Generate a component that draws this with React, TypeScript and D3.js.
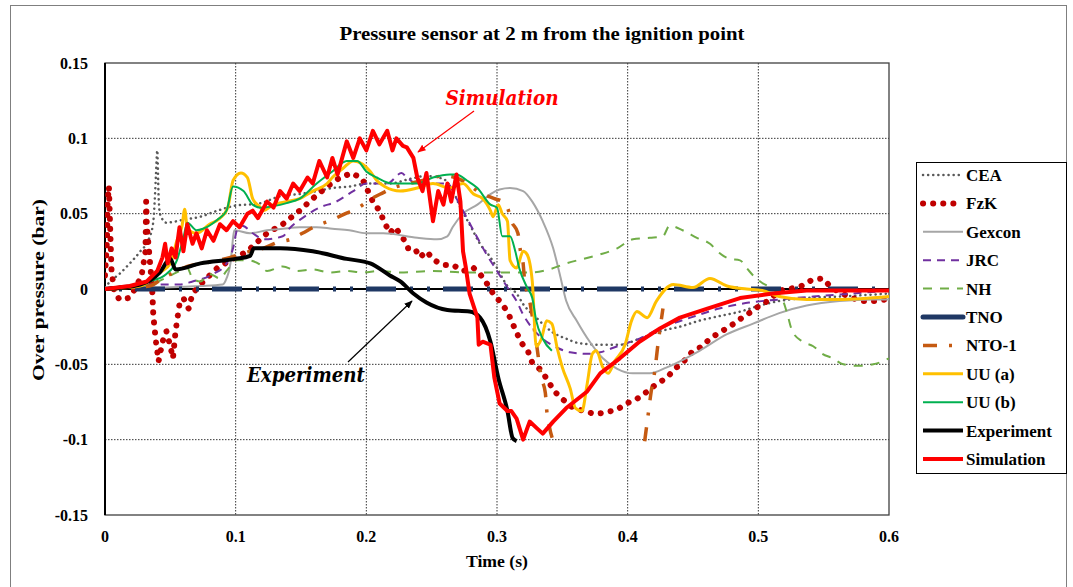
import React from "react";
import * as d3 from "d3";

type Pt = [number, number];

// time (s), over pressure (bar)
const cea: Pt[] = [
  [0, 0.001], [0.004, 0.005], [0.011, 0.01], [0.019, 0.017], [0.027, 0.025], [0.034, 0.034],
  [0.037, 0.045], [0.038, 0.058], [0.039, 0.076], [0.04, 0.092], [0.041, 0.062], [0.042, 0.05],
  [0.047, 0.044], [0.06, 0.046], [0.073, 0.048], [0.086, 0.052], [0.098, 0.055], [0.119, 0.057],
  [0.136, 0.062], [0.149, 0.063], [0.162, 0.065], [0.174, 0.067], [0.187, 0.068], [0.2, 0.07],
  [0.218, 0.07], [0.233, 0.073], [0.246, 0.075], [0.259, 0.073], [0.268, 0.062], [0.272, 0.054],
  [0.279, 0.043], [0.287, 0.03], [0.295, 0.021], [0.3, 0.014], [0.308, 0.002], [0.315, -0.003],
  [0.32, -0.01], [0.33, -0.019], [0.343, -0.029], [0.353, -0.033], [0.363, -0.036], [0.379, -0.037],
  [0.394, -0.037], [0.409, -0.033], [0.425, -0.028], [0.44, -0.025], [0.455, -0.021], [0.47, -0.018],
  [0.486, -0.015], [0.501, -0.011], [0.516, -0.008], [0.537, -0.006], [0.562, -0.005], [0.6, -0.003],
];

const fzk: Pt[] = [
  [0, 0.009], [0.0015, 0.032], [0.002, 0.058], [0.003, 0.068], [0.004, 0.039], [0.005, 0.012],
  [0.007, -0.001], [0.011, -0.007], [0.018, -0.006], [0.023, 0], [0.028, 0.009], [0.031, 0.025],
  [0.0315, 0.058], [0.032, 0.042], [0.034, 0.022], [0.036, 0.002], [0.037, -0.018], [0.039, -0.035],
  [0.041, -0.048], [0.044, -0.035], [0.047, -0.028], [0.05, -0.038], [0.052, -0.046], [0.054, -0.028],
  [0.057, -0.01], [0.06, -0.006], [0.064, -0.013], [0.067, -0.003], [0.073, 0.003], [0.086, 0.014],
  [0.096, 0.019], [0.109, 0.025], [0.115, 0.03], [0.124, 0.037], [0.136, 0.043], [0.149, 0.052],
  [0.159, 0.06], [0.17, 0.068], [0.18, 0.074], [0.189, 0.077], [0.197, 0.073], [0.205, 0.058],
  [0.21, 0.052], [0.214, 0.044], [0.218, 0.037], [0.222, 0.041], [0.228, 0.034], [0.232, 0.027],
  [0.237, 0.027], [0.241, 0.021], [0.246, 0.025], [0.252, 0.019], [0.259, 0.016], [0.266, 0.016],
  [0.274, 0.012], [0.282, 0.014], [0.287, 0.01], [0.292, 0.004], [0.297, -0.003], [0.302, -0.008],
  [0.308, -0.015], [0.311, -0.021], [0.315, -0.029], [0.319, -0.036], [0.324, -0.042], [0.327, -0.049],
  [0.334, -0.054], [0.339, -0.061], [0.344, -0.068], [0.35, -0.073], [0.357, -0.078], [0.366, -0.081],
  [0.375, -0.083], [0.383, -0.082], [0.392, -0.08], [0.399, -0.076], [0.407, -0.073], [0.415, -0.068],
  [0.422, -0.063], [0.43, -0.059], [0.436, -0.053], [0.442, -0.049], [0.449, -0.042], [0.457, -0.038],
  [0.463, -0.033], [0.47, -0.029], [0.478, -0.025], [0.486, -0.02], [0.493, -0.016], [0.501, -0.011],
  [0.509, -0.007], [0.516, -0.001], [0.524, 0], [0.533, 0.002], [0.541, 0.006], [0.549, 0.007],
  [0.556, 0.001], [0.564, -0.003], [0.572, -0.006], [0.58, -0.008], [0.589, -0.008], [0.598, -0.007],
];

const gexcon: Pt[] = [
  [0, 0.001], [0.047, 0.001], [0.073, 0.002], [0.09, 0.003], [0.093, 0.007], [0.096, 0.017],
  [0.097, 0.025], [0.098, 0.034], [0.099, 0.039], [0.111, 0.037], [0.124, 0.039], [0.136, 0.04],
  [0.149, 0.041], [0.162, 0.041], [0.174, 0.04], [0.187, 0.039], [0.2, 0.037], [0.213, 0.037],
  [0.239, 0.034], [0.254, 0.033], [0.262, 0.035], [0.266, 0.041], [0.274, 0.05], [0.285, 0.056],
  [0.295, 0.063], [0.302, 0.066], [0.31, 0.067], [0.32, 0.065], [0.327, 0.058], [0.335, 0.045],
  [0.343, 0.027], [0.348, 0.01], [0.353, -0.008], [0.361, -0.021], [0.371, -0.035], [0.381, -0.046],
  [0.392, -0.053], [0.404, -0.056], [0.417, -0.056], [0.43, -0.052], [0.455, -0.041], [0.476, -0.03],
  [0.496, -0.023], [0.516, -0.016], [0.537, -0.011], [0.562, -0.008], [0.588, -0.007], [0.6, -0.007],
];

const jrc: Pt[] = [
  [0, 0], [0.004, 0.001], [0.037, 0.003], [0.057, 0.003], [0.067, 0.005], [0.083, 0.01],
  [0.093, 0.017], [0.098, 0.027], [0.101, 0.039], [0.105, 0.042], [0.113, 0.037], [0.122, 0.033],
  [0.136, 0.035], [0.142, 0.041], [0.151, 0.047], [0.164, 0.054], [0.177, 0.058], [0.19, 0.065],
  [0.2, 0.07], [0.216, 0.07], [0.227, 0.077], [0.231, 0.074], [0.239, 0.07], [0.251, 0.07],
  [0.262, 0.07], [0.269, 0.06], [0.277, 0.047], [0.285, 0.034], [0.292, 0.023], [0.3, 0.012],
  [0.308, 0.001], [0.315, -0.008], [0.32, -0.017], [0.327, -0.026], [0.335, -0.033], [0.346, -0.039],
  [0.356, -0.042], [0.369, -0.043], [0.379, -0.042], [0.389, -0.039], [0.399, -0.036], [0.409, -0.033],
  [0.425, -0.026], [0.448, -0.019], [0.47, -0.013], [0.493, -0.009], [0.516, -0.007], [0.542, -0.005],
  [0.572, -0.003], [0.6, -0.001],
];

const nh: Pt[] = [
  [0, 0], [0.034, 0.003], [0.055, 0.011], [0.063, 0.014], [0.067, 0.007], [0.073, 0.005],
  [0.08, 0.01], [0.088, 0.007], [0.093, 0.012], [0.101, 0.019], [0.109, 0.019], [0.119, 0.016],
  [0.124, 0.012], [0.136, 0.015], [0.147, 0.012], [0.159, 0.013], [0.172, 0.011], [0.185, 0.012],
  [0.197, 0.011], [0.21, 0.012], [0.226, 0.011], [0.251, 0.012], [0.277, 0.011], [0.302, 0.011],
  [0.327, 0.011], [0.34, 0.013], [0.353, 0.017], [0.366, 0.02], [0.379, 0.023], [0.392, 0.027],
  [0.404, 0.033], [0.417, 0.034], [0.427, 0.035], [0.432, 0.042], [0.442, 0.039], [0.453, 0.034],
  [0.463, 0.03], [0.47, 0.024], [0.478, 0.02], [0.486, 0.019], [0.491, 0.014], [0.496, 0.009],
  [0.503, 0.004], [0.511, 0], [0.519, -0.008], [0.522, -0.016], [0.526, -0.028], [0.534, -0.035],
  [0.542, -0.038], [0.549, -0.043], [0.557, -0.046], [0.565, -0.05], [0.575, -0.051], [0.588, -0.05],
  [0.6, -0.046],
];

const tno: Pt[] = [[0, 0], [0.6, 0]];

const nto1a: Pt[] = [
  [0, 0], [0.034, 0.002], [0.044, 0.007], [0.055, 0.012], [0.063, 0.015], [0.075, 0.017],
  [0.096, 0.021], [0.111, 0.025], [0.121, 0.027], [0.132, 0.031], [0.142, 0.033], [0.151, 0.037],
  [0.162, 0.042], [0.174, 0.046], [0.184, 0.05], [0.194, 0.054], [0.204, 0.06], [0.213, 0.064],
  [0.22, 0.067], [0.233, 0.07], [0.243, 0.072], [0.251, 0.074], [0.26, 0.075], [0.268, 0.074],
  [0.279, 0.069], [0.285, 0.065], [0.298, 0.06], [0.304, 0.058], [0.308, 0.054], [0.311, 0.045],
  [0.316, 0.037], [0.318, 0.025], [0.32, 0.017], [0.321, 0.007], [0.325, -0.008], [0.33, -0.035],
  [0.334, -0.059], [0.337, -0.069], [0.338, -0.08], [0.34, -0.091], [0.343, -0.101],
];
const nto1b: Pt[] = [
  [0.413, -0.101], [0.415, -0.088], [0.418, -0.068], [0.421, -0.053], [0.423, -0.038],
  [0.425, -0.025], [0.427, -0.013],
];

const uuA: Pt[] = [
  [0, 0], [0.027, 0.002], [0.042, 0.011], [0.05, 0.017], [0.055, 0.032], [0.059, 0.042],
  [0.061, 0.053], [0.063, 0.04], [0.07, 0.037], [0.08, 0.043], [0.088, 0.047], [0.094, 0.054],
  [0.098, 0.072], [0.104, 0.077], [0.109, 0.074], [0.113, 0.06], [0.119, 0.054], [0.121, 0.052],
  [0.129, 0.056], [0.139, 0.058], [0.149, 0.06], [0.159, 0.065], [0.17, 0.07], [0.174, 0.074],
  [0.182, 0.08], [0.19, 0.085], [0.197, 0.083], [0.203, 0.078], [0.208, 0.072], [0.214, 0.068],
  [0.226, 0.065], [0.239, 0.067], [0.251, 0.07], [0.264, 0.067], [0.274, 0.07], [0.282, 0.063],
  [0.289, 0.06], [0.295, 0.052], [0.297, 0.048], [0.301, 0.056], [0.304, 0.05], [0.308, 0.045],
  [0.31, 0.019], [0.315, 0.014], [0.32, 0.025], [0.323, 0.023], [0.327, 0.005], [0.33, -0.038],
  [0.334, -0.033], [0.338, -0.021], [0.342, -0.023], [0.346, -0.039], [0.35, -0.052], [0.356, -0.066],
  [0.36, -0.079], [0.365, -0.081], [0.369, -0.063], [0.373, -0.043], [0.376, -0.041], [0.381, -0.052],
  [0.385, -0.056], [0.39, -0.048], [0.398, -0.037], [0.403, -0.021], [0.407, -0.015], [0.415, -0.019],
  [0.422, -0.008], [0.435, 0.003], [0.45, 0.001], [0.463, 0.007], [0.476, 0.002], [0.491, 0],
  [0.503, -0.001], [0.516, -0.005], [0.537, -0.007], [0.562, -0.007], [0.6, -0.005],
];

const uuB: Pt[] = [
  [0, 0], [0.034, 0.005], [0.047, 0.01], [0.055, 0.019], [0.06, 0.034], [0.063, 0.044],
  [0.07, 0.039], [0.075, 0.04], [0.086, 0.046], [0.093, 0.052], [0.098, 0.068], [0.106, 0.065],
  [0.113, 0.056], [0.119, 0.054], [0.129, 0.055], [0.139, 0.057], [0.149, 0.06], [0.162, 0.07],
  [0.174, 0.078], [0.185, 0.085], [0.193, 0.085], [0.2, 0.078], [0.208, 0.074], [0.22, 0.07],
  [0.239, 0.07], [0.251, 0.074], [0.264, 0.076], [0.269, 0.076], [0.277, 0.072], [0.285, 0.067],
  [0.295, 0.056], [0.3, 0.054], [0.304, 0.035], [0.31, 0.035], [0.314, 0.025], [0.317, 0.014],
  [0.323, 0.001], [0.327, -0.006], [0.33, -0.021], [0.335, -0.033], [0.342, -0.041],
];

const experiment: Pt[] = [
  [0, 0], [0.027, 0.003], [0.042, 0.011], [0.05, 0.02], [0.054, 0.013], [0.073, 0.017],
  [0.1, 0.02], [0.111, 0.022], [0.114, 0.027], [0.134, 0.027], [0.159, 0.025], [0.185, 0.02],
  [0.203, 0.017], [0.218, 0.009], [0.226, 0.005], [0.236, -0.003], [0.246, -0.009], [0.262, -0.014],
  [0.279, -0.015], [0.287, -0.019], [0.295, -0.035], [0.301, -0.059], [0.308, -0.081], [0.312, -0.099],
  [0.315, -0.101],
];

const simulation: Pt[] = [
  [0, 0], [0.019, 0.002], [0.032, 0.005], [0.04, 0.012], [0.044, 0.021], [0.046, 0.03],
  [0.048, 0.017], [0.051, 0.027], [0.054, 0.021], [0.057, 0.041], [0.06, 0.025], [0.063, 0.043],
  [0.067, 0.03], [0.07, 0.037], [0.074, 0.027], [0.078, 0.039], [0.083, 0.032], [0.088, 0.043],
  [0.093, 0.039], [0.098, 0.045], [0.103, 0.041], [0.109, 0.05], [0.113, 0.052], [0.117, 0.047],
  [0.124, 0.058], [0.129, 0.054], [0.134, 0.065], [0.139, 0.06], [0.144, 0.07], [0.149, 0.065],
  [0.155, 0.074], [0.159, 0.07], [0.164, 0.085], [0.17, 0.074], [0.174, 0.087], [0.178, 0.076],
  [0.185, 0.098], [0.19, 0.087], [0.195, 0.1], [0.2, 0.092], [0.205, 0.105], [0.21, 0.096],
  [0.216, 0.105], [0.22, 0.092], [0.223, 0.1], [0.228, 0.095], [0.231, 0.094], [0.236, 0.087],
  [0.239, 0.074], [0.243, 0.065], [0.246, 0.077], [0.251, 0.045], [0.255, 0.065], [0.259, 0.056],
  [0.262, 0.07], [0.265, 0.058], [0.269, 0.076], [0.272, 0.058], [0.274, 0.025], [0.276, 0.015],
  [0.279, -0.003], [0.285, -0.019], [0.286, -0.037], [0.289, -0.035], [0.295, -0.037], [0.298, -0.059],
  [0.302, -0.076], [0.308, -0.081], [0.311, -0.081], [0.315, -0.086], [0.32, -0.1], [0.325, -0.088],
  [0.33, -0.092], [0.335, -0.096], [0.343, -0.088], [0.353, -0.079], [0.369, -0.068], [0.379, -0.056],
  [0.394, -0.046], [0.409, -0.035], [0.425, -0.026], [0.44, -0.019], [0.461, -0.013], [0.486, -0.006],
  [0.511, -0.003], [0.537, -0.001], [0.6, -0.001],
];

const xTicks = [0, 0.1, 0.2, 0.3, 0.4, 0.5, 0.6];
const yTicks = [-0.15, -0.1, -0.05, 0, 0.05, 0.1, 0.15];

interface Series {
  name: string;
  parts: Pt[][];
  color: string;
  width: number;
  dash?: string;
  offset?: number;
  cap?: "round" | "butt";
  smooth: boolean;
  legendDash?: string;
}

const series: Series[] = [
  { name: "CEA", parts: [cea], color: "#595959", width: 2.5, dash: "0.1,5", cap: "round", smooth: true },
  { name: "FzK", parts: [fzk], color: "#C00000", width: 6, dash: "0.1,10", cap: "round", smooth: false },
  { name: "Gexcon", parts: [gexcon], color: "#A6A6A6", width: 2, smooth: true },
  { name: "JRC", parts: [jrc], color: "#7030A0", width: 2, dash: "8,6", smooth: true },
  { name: "NH", parts: [nh], color: "#70AD47", width: 2, dash: "9,8", smooth: true },
  { name: "TNO", parts: [tno], color: "#1F3864", width: 5, dash: "30,14,3,14,3,13", offset: 47, smooth: false, legendDash: "none" },
  { name: "NTO-1", parts: [nto1a, nto1b], color: "#C55A11", width: 3.5, dash: "14,12,3,12", smooth: true, legendDash: "14,12,3,20" },
  { name: "UU (a)", parts: [uuA], color: "#FFC000", width: 3, smooth: true },
  { name: "UU (b)", parts: [uuB], color: "#00B050", width: 2, smooth: true },
  { name: "Experiment", parts: [experiment], color: "#000000", width: 4, smooth: true },
  { name: "Simulation", parts: [simulation], color: "#FF0000", width: 4, smooth: false },
];

const W = 1073;
const H = 587;
const plot = { left: 105, right: 889, top: 63, bottom: 515 };
const serif = "Liberation Serif, Times New Roman, serif";

export default function App() {
  const x = d3.scaleLinear().domain([0, 0.6]).range([plot.left, plot.right]);
  const y = d3.scaleLinear().domain([-0.15, 0.15]).range([plot.bottom, plot.top]);

  const lineOf = (smooth: boolean) =>
    d3
      .line<Pt>()
      .x((d) => x(d[0]))
      .y((d) => y(d[1]))
      .curve(smooth ? d3.curveMonotoneX : d3.curveLinear);

  const legendX = 923;
  const legendY0 = 175;
  const legendStep = 28.4;

  return (
    <svg
      width={W}
      height={H}
      style={{ position: "absolute", left: 0, top: 0, background: "#fff", fontFamily: serif }}
    >
      <defs>
        <marker id="arrRed" viewBox="0 0 10 10" refX="9" refY="5" markerWidth="7" markerHeight="7" orient="auto">
          <path d="M0,1 L10,5 L0,9 z" fill="#FF0000" />
        </marker>
        <marker id="arrBlack" viewBox="0 0 10 10" refX="9" refY="5" markerWidth="7" markerHeight="7" orient="auto">
          <path d="M0,1 L10,5 L0,9 z" fill="#000" />
        </marker>
        <clipPath id="plotClip">
          <rect x={plot.left} y={plot.top - 3} width={plot.right - plot.left} height={plot.bottom - plot.top + 6} />
        </clipPath>
      </defs>

      {/* outer frame */}
      <rect x={10.5} y={5.5} width={1056} height={600} fill="none" stroke="#7f7f7f" strokeWidth={1} />

      {/* title */}
      <text x={542} y={40} textAnchor="middle" fontSize={18} fontWeight="bold" textLength={405} lengthAdjust="spacingAndGlyphs">
        Pressure sensor at 2 m from the ignition point
      </text>

      {/* grid */}
      {xTicks.slice(1, -1).map((t) => (
        <line key={"gx" + t} x1={x(t)} x2={x(t)} y1={plot.top} y2={plot.bottom} stroke="#000" strokeWidth={0.8} strokeDasharray="1.5,1.5" />
      ))}
      {yTicks.slice(1, -1).map((v) => (
        <line key={"gy" + v} x1={plot.left} x2={plot.right} y1={y(v)} y2={y(v)} stroke="#000" strokeWidth={0.8} strokeDasharray="1.5,1.5" />
      ))}
      <rect x={plot.left} y={plot.top} width={plot.right - plot.left} height={plot.bottom - plot.top} fill="none" stroke="#404040" strokeWidth={1.3} />
      <line x1={plot.left} x2={plot.left} y1={plot.top} y2={plot.bottom} stroke="#000" strokeWidth={2} />
      <line x1={plot.left} x2={plot.right} y1={y(0)} y2={y(0)} stroke="#000" strokeWidth={1.8} />

      {/* tick labels */}
      {yTicks.map((v) => (
        <text key={"ty" + v} x={88} y={y(v) + 5.5} textAnchor="end" fontSize={16} fontWeight="bold">
          {v === 0 ? "0" : String(v)}
        </text>
      ))}
      {xTicks.map((t) => (
        <text key={"tx" + t} x={x(t)} y={542} textAnchor="middle" fontSize={16} fontWeight="bold">
          {String(t)}
        </text>
      ))}
      <text x={497} y={567} textAnchor="middle" fontSize={17} fontWeight="bold" textLength={62} lengthAdjust="spacingAndGlyphs">
        Time (s)
      </text>
      <text transform={`translate(44,${y(0) + 1}) rotate(-90)`} textAnchor="middle" fontSize={17} fontWeight="bold" textLength={182} lengthAdjust="spacingAndGlyphs">
        Over pressure (bar)
      </text>

      {/* series */}
      <g clipPath="url(#plotClip)">
        {series.map((s) =>
          s.parts.map((p, i) => (
            <path
              key={s.name + i}
              d={lineOf(s.smooth)(p) || ""}
              fill="none"
              stroke={s.color}
              strokeWidth={s.width}
              strokeDasharray={s.dash}
              strokeDashoffset={s.offset}
              strokeLinecap={s.cap || "butt"}
              strokeLinejoin="round"
            />
          ))
        )}
      </g>

      {/* annotations */}
      <text x={502} y={105} textAnchor="middle" fontSize={20} fontWeight="bold" fontStyle="italic" fill="#FF0000" style={{ fontFamily: "DejaVu Serif, serif" }} textLength={113} lengthAdjust="spacingAndGlyphs">
        Simulation
      </text>
      <line x1={474} y1={111} x2={418} y2={152} stroke="#FF0000" strokeWidth={1.2} markerEnd="url(#arrRed)" />
      <text x={306} y={382} textAnchor="middle" fontSize={20} fontWeight="bold" fontStyle="italic" fill="#000" style={{ fontFamily: "DejaVu Serif, serif" }} textLength={118} lengthAdjust="spacingAndGlyphs">
        Experiment
      </text>
      <line x1={348} y1={362} x2={412} y2={301} stroke="#000" strokeWidth={1.2} markerEnd="url(#arrBlack)" />

      {/* legend */}
      <rect x={916.5} y={162.5} width={150} height={311} fill="#fff" stroke="#000" strokeWidth={1} />
      {series.map((s, i) => {
        const ly = legendY0 + i * legendStep;
        return (
          <g key={"lg" + s.name}>
            <line
              x1={legendX}
              x2={legendX + 40}
              y1={ly}
              y2={ly}
              stroke={s.color}
              strokeWidth={s.width}
              strokeDasharray={s.legendDash ?? s.dash}
              strokeLinecap={s.cap || (s.name === "TNO" ? "round" : "butt")}
            />
            <text x={legendX + 43} y={ly + 6} fontSize={17} fontWeight="bold">
              {s.name}
            </text>
          </g>
        );
      })}
    </svg>
  );
}
